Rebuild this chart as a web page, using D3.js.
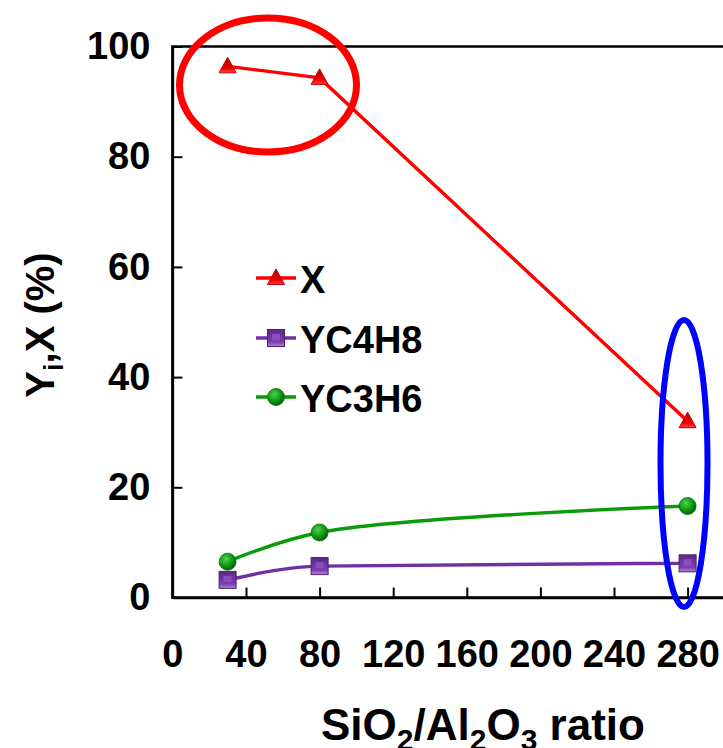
<!DOCTYPE html>
<html>
<head>
<meta charset="utf-8">
<script src="https://cdn.jsdelivr.net/npm/d3@7"></script>
<style>
  html, body { margin: 0; padding: 0; background: #fff; }
  svg { display: block; }
  text { font-family: "Liberation Sans", Arial, Helvetica, sans-serif; font-weight: bold; }
</style>
</head>
<body>
<script>
// ---- data ----
const ratios = [30, 80, 280];
const seriesX = [96.4, 94.3, 32.0];
const seriesYC4H8 = [3.2, 5.7, 6.2];
const seriesYC3H6 = [6.5, 11.8, 16.6];
const seriesNames = ["X", "YC4H8", "YC3H6"];
const xTickValues = [0, 40, 80, 120, 160, 200, 240, 280];
const yTickValues = [0, 20, 40, 60, 80, 100];

const W = 723, H = 748;
const svg = d3.select("body").append("svg").attr("width", W).attr("height", H);

const x = d3.scaleLinear().domain([0, 300]).range([172.4, 724.4]);
const y = d3.scaleLinear().domain([0, 100]).range([597.5, 46.5]);

// defs: gradients for 3D-ish markers
const defs = svg.append("defs");
const gG = defs.append("radialGradient").attr("id", "gGreen").attr("cx", "40%").attr("cy", "35%").attr("r", "65%");
gG.append("stop").attr("offset", "0%").attr("stop-color", "#4fd34f");
gG.append("stop").attr("offset", "60%").attr("stop-color", "#0f9a12");
gG.append("stop").attr("offset", "100%").attr("stop-color", "#05600a");
const gR = defs.append("linearGradient").attr("id", "gRed").attr("x1", "0").attr("y1", "0").attr("x2", "0").attr("y2", "1");
gR.append("stop").attr("offset", "0%").attr("stop-color", "#b00000");
gR.append("stop").attr("offset", "70%").attr("stop-color", "#ee0000");
gR.append("stop").attr("offset", "100%").attr("stop-color", "#ff4040");
const gP = defs.append("linearGradient").attr("id", "gPurple").attr("x1", "0").attr("y1", "0").attr("x2", "0").attr("y2", "1");
gP.append("stop").attr("offset", "0%").attr("stop-color", "#5a2a85");
gP.append("stop").attr("offset", "75%").attr("stop-color", "#7d3fb0");
gP.append("stop").attr("offset", "100%").attr("stop-color", "#b08cd0");

// frame
svg.append("rect")
  .attr("x", x(0)).attr("y", y(100))
  .attr("width", x(300) - x(0)).attr("height", y(0) - y(100))
  .attr("fill", "none").attr("stroke", "#000").attr("stroke-width", 2.5);

// axes
const xAxis = svg.append("g").attr("transform", `translate(0,${y(0)})`)
  .call(d3.axisBottom(x).tickValues(xTickValues).tickSizeInner(-10).tickSizeOuter(0).tickPadding(43));
xAxis.select(".domain").attr("stroke-width", 2.5);
xAxis.selectAll(".tick line").attr("stroke-width", 2);
xAxis.selectAll(".tick text").attr("font-size", 38).attr("fill", "#000")
  .style("font-family", '"Liberation Sans", Arial, sans-serif').style("font-weight", "bold");

const yAxis = svg.append("g").attr("transform", `translate(${x(0)},0)`)
  .call(d3.axisLeft(y).tickValues(yTickValues).tickSizeInner(-10).tickSizeOuter(0).tickPadding(22));
yAxis.select(".domain").attr("stroke-width", 2.5);
yAxis.selectAll(".tick line").attr("stroke-width", 2);
yAxis.selectAll(".tick text").attr("font-size", 38).attr("fill", "#000")
  .style("font-family", '"Liberation Sans", Arial, sans-serif').style("font-weight", "bold");

// series
const series = [
  { name: seriesNames[0], values: seriesX, color: "#ff0000", shape: "tri", curve: d3.curveLinear },
  { name: seriesNames[1], values: seriesYC4H8, color: "#7030a0", shape: "sq", curve: d3.curveMonotoneX },
  { name: seriesNames[2], values: seriesYC3H6, color: "#0a9a0a", shape: "circ", curve: d3.curveCatmullRom.alpha(0.5) }
];

function drawMarker(g, shape, cx, cy) {
  if (shape === "tri") {
    g.append("path")
      .attr("d", `M${cx},${cy - 9} L${cx + 8.5},${cy + 6.5} L${cx - 8.5},${cy + 6.5} Z`)
      .attr("fill", "url(#gRed)").attr("stroke", "#c00000").attr("stroke-width", 1);
  } else if (shape === "sq") {
    g.append("rect").attr("x", cx - 8.5).attr("y", cy - 8.5).attr("width", 17).attr("height", 17)
      .attr("fill", "url(#gPurple)").attr("stroke", "#4a1f70").attr("stroke-width", 1);
    g.append("rect").attr("x", cx - 4).attr("y", cy - 4).attr("width", 8).attr("height", 6)
      .attr("fill", "#8a4cc0");
  } else {
    g.append("circle").attr("cx", cx).attr("cy", cy).attr("r", 8.5)
      .attr("fill", "url(#gGreen)").attr("stroke", "#0a6e0a").attr("stroke-width", 0.8);
  }
}

series.forEach(s => {
  const pts = ratios.map((r, i) => [x(r), y(s.values[i])]);
  svg.append("path")
    .attr("d", d3.line().curve(s.curve)(pts))
    .attr("fill", "none").attr("stroke", s.color).attr("stroke-width", 3.4);
  const g = svg.append("g");
  pts.forEach(p => drawMarker(g, s.shape, p[0], p[1]));
});

// legend
const legendY = [278, 338, 397];
series.forEach((s, i) => {
  const ly = legendY[i];
  svg.append("line").attr("x1", 256).attr("x2", 296).attr("y1", ly).attr("y2", ly)
    .attr("stroke", s.color).attr("stroke-width", 3.4);
  drawMarker(svg.append("g"), s.shape, 276, ly);
  svg.append("text").attr("x", 300).attr("y", ly + 15).attr("font-size", 38).attr("fill", "#000").text(s.name);
});

// annotation ellipses
svg.append("ellipse").attr("cx", 268).attr("cy", 85).attr("rx", 88.5).attr("ry", 67)
  .attr("fill", "none").attr("stroke", "#ff0000").attr("stroke-width", 7);
svg.append("ellipse").attr("cx", 684).attr("cy", 463.5).attr("rx", 23.5).attr("ry", 143.5)
  .attr("fill", "none").attr("stroke", "#0000ff").attr("stroke-width", 6);

// y axis title
const yt = svg.append("text").attr("transform", "translate(54,325) rotate(-90)")
  .attr("text-anchor", "middle").attr("font-size", 40).attr("fill", "#000");
yt.append("tspan").text("Y");
yt.append("tspan").attr("font-size", 27).attr("dy", 9).text("i");
yt.append("tspan").attr("dy", -9).text(",X (%)");

// x axis title
const xt = svg.append("text").attr("x", 321).attr("y", 740).attr("font-size", 44).attr("fill", "#000");
xt.append("tspan").text("SiO");
xt.append("tspan").attr("font-size", 30).attr("dy", 10).text("2");
xt.append("tspan").attr("dy", -10).text("/Al");
xt.append("tspan").attr("font-size", 30).attr("dy", 10).text("2");
xt.append("tspan").attr("dy", -10).text("O");
xt.append("tspan").attr("font-size", 30).attr("dy", 10).text("3");
xt.append("tspan").attr("dy", -10).text(" ratio");
</script>
</body>
</html>
